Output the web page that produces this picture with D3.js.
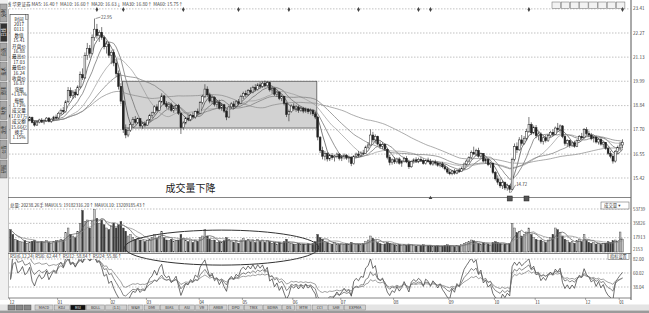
<!DOCTYPE html>
<html><head><meta charset="utf-8">
<script src="https://cdn.jsdelivr.net/npm/d3@7"></script>
<style>body{margin:0;background:#fff}svg{display:block;font-family:"Noto Sans CJK SC","DejaVu Sans",sans-serif}</style>
</head><body><svg id="chart" width="649" height="313"></svg>
<script>
// month labels and trading days per month
const monthLabels = ["12","01","02","03","04","05","06","07","08","09","10","11","12","01"];
const monthDays = [20,22,15,22,18,21,20,22,23,19,17,21,14,2];

// daily [open, high, low, close]
const candles = [
[18.40,18.55,18.20,18.30],[18.30,18.38,18.05,18.12],[18.10,18.25,17.95,18.20],[18.20,18.30,18.00,18.05],[18.05,18.18,17.92,18.10],
[18.10,18.28,18.02,18.22],[18.22,18.30,18.06,18.10],[18.10,18.20,17.98,18.15],[18.15,18.34,18.10,18.28],[18.28,18.32,18.00,18.04],
[18.04,18.12,17.85,17.92],[17.92,18.10,17.88,18.06],[18.06,18.22,18.00,18.16],[18.16,18.25,18.02,18.08],[18.08,18.20,17.95,18.12],
[18.12,18.30,18.08,18.25],[18.25,18.30,18.05,18.10],[18.10,18.24,18.02,18.20],[18.20,18.36,18.12,18.30],[18.30,18.42,18.18,18.26],
[18.26,18.55,18.20,18.48],[18.48,18.70,18.40,18.62],[18.62,18.78,18.45,18.55],[18.55,19.10,18.50,19.02],[19.02,19.72,18.95,19.55],
[19.55,19.70,19.20,19.30],[19.30,19.58,19.15,19.48],[19.48,19.62,19.20,19.35],[19.35,19.80,19.30,19.72],[19.72,20.45,19.65,20.30],
[20.30,20.60,20.05,20.15],[20.15,21.35,20.10,21.20],[21.20,21.80,21.00,21.55],[21.55,21.70,21.10,21.30],[21.30,22.20,21.25,22.05],
[22.05,22.95,21.90,22.45],[22.45,22.70,22.00,22.15],[22.15,22.40,21.85,22.30],[22.30,22.55,21.95,22.05],[22.05,22.15,21.50,21.62],
[21.62,21.90,21.30,21.75],[21.75,21.85,21.10,21.22],
[21.22,21.45,20.80,21.35],[21.35,21.50,20.70,20.85],[20.85,21.00,20.20,20.35],[20.35,20.50,19.60,19.75],[19.75,19.90,18.90,19.05],
[19.05,19.10,17.55,17.70],[17.70,17.95,17.30,17.45],[17.45,17.80,17.35,17.68],[17.68,18.05,17.60,17.95],[17.95,18.30,17.85,18.18],
[18.18,18.35,17.95,18.05],[18.05,18.28,17.98,18.22],[18.22,18.25,17.80,17.88],[17.88,18.05,17.75,17.98],[17.98,18.10,17.82,17.92],
[17.92,18.20,17.88,18.15],[18.15,18.45,18.10,18.38],[18.38,18.55,18.25,18.50],[18.50,18.85,18.42,18.78],[18.78,18.90,18.55,18.62],
[18.62,19.10,18.58,19.02],[19.02,19.42,18.95,19.30],[19.30,19.35,18.85,18.92],[18.92,19.05,18.70,18.80],[18.80,18.95,18.62,18.88],
[18.88,18.98,18.55,18.62],[18.62,18.80,18.50,18.72],[18.72,18.90,18.60,18.85],[18.85,18.92,18.40,18.48],[18.48,18.52,17.50,17.80],
[17.80,18.10,17.70,18.02],[18.02,18.30,17.95,18.25],[18.25,18.40,18.10,18.18],[18.18,18.45,18.12,18.38],[18.38,18.52,18.25,18.30],
[18.30,18.60,18.22,18.55],[18.55,18.70,18.40,18.48],
[18.48,19.05,18.45,18.98],[18.98,19.35,18.90,19.28],[19.28,19.85,19.20,19.62],[19.62,19.75,19.25,19.35],[19.35,19.45,18.95,19.05],
[19.05,19.30,18.92,19.22],[19.22,19.28,18.80,18.90],[18.90,19.10,18.75,19.00],[19.00,19.12,18.65,18.72],[18.72,18.95,18.60,18.88],
[18.88,18.92,18.50,18.58],[18.58,18.65,18.15,18.30],[18.30,18.85,18.25,18.78],[18.78,19.00,18.70,18.92],[18.92,19.05,18.68,18.80],
[18.80,19.10,18.75,19.02],[19.02,19.15,18.85,18.95],[18.95,19.35,18.90,19.28],
[19.28,19.50,19.15,19.42],[19.42,19.55,19.25,19.35],[19.35,19.62,19.30,19.55],[19.55,19.70,19.40,19.48],[19.48,19.78,19.42,19.70],
[19.70,19.85,19.52,19.60],[19.60,19.90,19.55,19.82],[19.82,19.95,19.65,19.75],[19.75,19.98,19.68,19.90],[19.90,20.02,19.70,19.78],
[19.78,20.00,19.72,19.92],[19.92,19.95,19.50,19.58],[19.58,19.72,19.40,19.65],[19.65,19.70,19.30,19.38],[19.38,19.55,19.25,19.48],
[19.48,19.52,19.10,19.18],[19.18,19.35,19.05,19.28],[19.28,19.30,18.85,18.95],[18.95,19.00,18.30,18.42],[18.42,18.65,18.10,18.55],
[18.55,18.90,18.50,18.82],
[18.82,18.95,18.60,18.70],[18.70,18.88,18.55,18.78],[18.78,18.85,18.50,18.62],[18.62,18.80,18.55,18.72],[18.72,18.78,18.48,18.58],
[18.58,18.75,18.50,18.68],[18.68,18.72,18.45,18.55],[18.55,18.70,18.42,18.60],[18.60,18.65,18.35,18.45],[18.45,18.55,18.20,18.30],
[18.30,18.32,17.20,17.35],[17.35,17.40,16.60,16.72],[16.72,16.90,16.30,16.45],[16.45,16.70,16.25,16.58],[16.58,16.65,16.20,16.32],
[16.32,16.55,16.22,16.48],[16.48,16.60,16.28,16.38],[16.38,16.52,16.20,16.45],[16.45,16.62,16.35,16.55],[16.55,16.60,16.25,16.35],
[16.35,16.50,16.22,16.42],[16.42,16.58,16.30,16.50],[16.50,16.55,16.28,16.36],[16.36,16.48,16.15,16.40],[16.40,16.45,15.98,16.10],
[16.10,16.50,16.05,16.45],[16.45,16.62,16.38,16.55],[16.55,16.70,16.40,16.48],[16.48,16.68,16.42,16.60],[16.60,16.75,16.50,16.58],
[16.58,16.95,16.55,16.88],[16.88,17.10,16.80,16.98],[16.98,17.72,16.95,17.45],[17.45,17.60,17.10,17.22],[17.22,17.48,17.05,17.38],
[17.38,17.42,16.95,17.02],[17.02,17.15,16.80,16.92],[16.92,17.10,16.78,17.00],[17.00,17.05,16.70,16.78],[16.78,16.82,16.30,16.40],
[16.40,16.52,16.02,16.15],[16.15,16.35,16.05,16.28],
[16.28,16.40,16.08,16.18],[16.18,16.38,16.10,16.32],[16.32,16.40,16.05,16.12],[16.12,16.25,15.95,16.20],[16.20,16.42,16.15,16.35],
[16.35,16.45,16.12,16.18],[16.18,16.28,15.85,15.95],[15.95,16.25,15.90,16.20],[16.20,16.35,16.10,16.28],[16.28,16.40,16.15,16.22],
[16.22,16.38,16.12,16.30],[16.30,16.42,16.18,16.25],[16.25,16.35,16.05,16.10],[16.10,16.30,16.05,16.25],[16.25,16.38,16.15,16.20],
[16.20,16.32,16.02,16.08],[16.08,16.25,16.00,16.18],[16.18,16.28,16.02,16.12],[16.12,16.20,15.95,16.02],[16.02,16.15,15.92,16.08],
[16.08,16.18,15.88,15.95],[15.95,16.05,15.78,15.85],[15.85,15.95,15.62,15.70],
[15.70,15.82,15.55,15.62],[15.62,15.80,15.55,15.75],[15.75,15.85,15.58,15.65],[15.65,15.82,15.60,15.78],[15.78,15.90,15.68,15.72],
[15.72,15.95,15.70,15.88],[15.88,16.15,15.82,16.08],[16.08,16.30,16.00,16.22],[16.22,16.45,16.15,16.38],[16.38,16.72,16.30,16.62],
[16.62,16.90,16.50,16.55],[16.55,16.80,16.45,16.72],[16.72,16.85,16.38,16.45],[16.45,16.62,16.35,16.58],[16.58,16.60,16.15,16.22],
[16.22,16.38,16.10,16.30],[16.30,16.35,15.98,16.05],[16.05,16.18,15.90,16.12],[16.12,16.15,15.60,15.68],
[15.68,15.75,15.30,15.38],[15.38,15.55,15.10,15.22],[15.22,15.40,14.95,15.05],[15.05,15.30,14.90,15.20],[15.20,15.25,14.85,14.95],
[14.95,15.15,14.82,15.05],[15.05,15.10,14.72,14.88],[14.88,16.38,14.85,16.30],[16.30,17.05,16.20,16.90],[16.90,17.10,16.60,16.75],
[16.75,17.35,16.70,17.22],[17.22,17.45,16.95,17.05],[17.05,17.40,16.98,17.30],[17.30,17.75,17.20,17.62],[17.62,18.30,17.55,17.95],
[17.95,18.05,17.45,17.55],[17.55,17.90,17.48,17.80],
[17.80,17.92,17.30,17.42],[17.42,17.60,17.20,17.50],[17.50,17.58,17.05,17.15],[17.15,17.40,17.00,17.32],[17.32,17.45,17.10,17.18],
[17.18,17.50,17.12,17.42],[17.42,17.65,17.35,17.58],[17.58,17.72,17.40,17.48],[17.48,17.85,17.45,17.78],[17.78,18.02,17.60,17.70],
[17.70,17.95,17.55,17.88],[17.88,17.92,17.30,17.38],[17.38,17.45,16.95,17.05],[17.05,17.25,16.90,17.18],[17.18,17.22,16.85,16.95],
[16.95,17.15,16.88,17.08],[17.08,17.18,16.85,16.92],[16.92,17.25,16.88,17.20],[17.20,17.45,17.15,17.38],[17.38,17.55,17.25,17.32],
[17.32,17.78,17.28,17.70],
[17.70,17.82,17.45,17.52],[17.52,17.65,17.35,17.45],[17.45,17.55,17.20,17.28],[17.28,17.40,17.10,17.35],[17.35,17.42,17.05,17.12],
[17.12,17.30,17.00,17.25],[17.25,17.32,16.95,17.02],[17.02,17.15,16.85,17.10],[17.10,17.12,16.75,16.82],[16.82,16.90,16.50,16.58],
[16.58,16.70,16.35,16.45],[16.45,16.55,16.10,16.22],[16.22,16.75,16.15,16.68],[16.68,16.95,16.55,16.85],
[16.85,17.12,16.70,16.98],[16.98,17.25,16.82,17.10]
];

const volume = [
28000,22000,16000,14000,13000,12500,14000,11000,12000,13500,15000,12000,11500,13000,12000,14500,12000,11000,13500,14000,
14000,16000,15000,24000,30000,22000,20000,18000,26000,36000,52000,38000,40000,30000,38000,53000,42000,36000,40000,34000,30000,28000,
32000,36000,30000,34000,38000,30000,26000,20000,22000,18000,16000,17000,15000,14000,13000,
14000,16000,18000,22000,17000,20000,26000,18000,15000,14000,16000,13000,14000,15000,22000,17000,15000,13000,14000,12000,15000,13000,
18000,20000,28000,20000,16000,14000,15000,12000,13000,12000,14000,18000,16000,13000,12000,14000,11000,15000,
17000,14000,16000,13000,15000,12000,16000,13000,15000,12000,14000,13000,11000,12000,10000,12000,10500,13000,16000,12000,11000,
10000,9500,11000,9000,10000,9000,10500,9500,11000,13000,22000,18000,16000,13000,12000,11000,10000,11500,10000,9500,
10000,9000,10500,9500,12000,11000,9500,10000,9000,10500,13000,15000,20000,17000,14000,12000,10500,9500,10000,12000,11000,9000,
9000,8500,9500,8000,9000,8500,10000,9000,8000,7500,8500,8000,9000,7500,8000,8500,7000,7500,8000,7000,7500,8500,9000,
8000,7500,7000,8000,7500,9000,11000,12000,13000,15000,14000,12000,11000,10000,11500,9000,10000,8500,12000,
13000,12000,11000,9500,10000,9000,11000,36000,30000,24000,26000,20000,22000,25000,30000,22000,18000,
16000,14000,15000,13000,12000,15000,18000,22000,30000,28000,24000,20000,16000,14000,12000,13000,11000,14000,16000,13000,22000,
15000,12000,11000,12000,10000,11000,9500,10500,11000,13000,12000,14000,15000,13000,
25000,16000
];

const priceTicks = [15.42,16.55,17.70,18.84,19.99,21.13,22.27,23.41];
const volTicks = [17913,35826,53739];
const rsiTicks = [38.04,60.02,82.00];
const maPeriods = [5,10,20,30,60];
const maColors = ["#444","#666","#999","#777","#888"];
const rsiPeriods = [6,12,24];
const rsiColors = ["#333","#555","#777"];
const infoDays = [36,47,72,95,116,145,170,175,216,255];
const sideTabs = ["分时","日线","自选","技术","资讯","财务","龙虎","公告","研报"];
const bottomTabs = ["MACD","KDJ","RSI","BOLL","(1.1)","W&R","DMI","BIAS","ASI","VR","ARBR","DPO","TRIX","BDMA","DS","MTM","CCI","SAR","EXPMA"];
const infoLines = ["时间","2017","0111","数值","15.41","开盘价","16.88","最高价","17.03","最低价","16.24","收盘价","16.87","涨幅","+1.67%","振幅","1.73%","成交量","17.07万","成交额","15.66亿","换手","1.15%"];

const svg = d3.select("#chart");
const closes = candles.map(d => d[3]);
const n = candles.length;

const x = d3.scaleBand().domain(d3.range(n)).range([9, 624]).padding(0.25);
const xc = i => x(i) + x.bandwidth() / 2;
const yP = d3.scaleLinear().domain([15.42, 22.27]).range([178, 33]);
const yV = d3.scaleLinear().domain([0, 53739]).range([252, 209]);
const yR = d3.scaleLinear().domain([38.04, 82.00]).range([287, 259]);

const movingAvg = (arr, p) => arr.map((v, i) => d3.mean(arr.slice(Math.max(0, i - p + 1), i + 1)));

function rsi(p) {
  let up = 0.1, dn = 0.1;
  return closes.map((c, i) => {
    if (i === 0) return 50;
    const diff = c - closes[i - 1];
    up = (Math.max(diff, 0) + (p - 1) * up) / p;
    dn = (Math.abs(diff) + (p - 1) * dn) / p;
    return up / dn * 100;
  });
}

// clip paths
const defs = svg.append("defs");
defs.append("clipPath").attr("id", "cp").append("rect").attr("x", 9).attr("y", 9).attr("width", 622).attr("height", 188);
defs.append("clipPath").attr("id", "cr").append("rect").attr("x", 9).attr("y", 259).attr("width", 622).attr("height", 39);

// header
svg.append("text").attr("x", 2).attr("y", 5.5).attr("font-size", 4.6).attr("fill", "#444")
  .text("日线 华夏证券  MA5: 16.40↑  MA10: 16.60↑  MA20: 16.63↓  MA30: 16.80↑  MA60: 15.75↑");

// top right buttons
svg.append("g").selectAll("rect").data(d3.range(8)).join("rect")
  .attr("x", d => 552 + d * 9.2).attr("y", 2).attr("width", 8.5).attr("height", 6.5)
  .attr("fill", "#f2f2f2").attr("stroke", "#666").attr("stroke-width", 0.5);

// frame
svg.append("line").attr("x1", 8).attr("x2", 8).attr("y1", 9).attr("y2", 298).attr("stroke", "#666").attr("stroke-width", 0.8);
svg.append("line").attr("x1", 631).attr("x2", 631).attr("y1", 0).attr("y2", 300).attr("stroke", "#555").attr("stroke-width", 1);
[197.5, 253.5, 298].forEach(y => svg.append("line").attr("x1", 8).attr("x2", 631).attr("y1", y).attr("y2", y).attr("stroke", "#666").attr("stroke-width", 0.8));

// price grid
const gP = svg.append("g");
gP.selectAll("line").data(priceTicks).join("line")
  .attr("x1", 9).attr("x2", 631).attr("y1", d => yP(d)).attr("y2", d => yP(d))
  .attr("stroke", "#999").attr("stroke-width", 0.6).attr("stroke-dasharray", "1.5,1.5");
gP.selectAll("text").data(priceTicks).join("text")
  .attr("x", 633).attr("y", d => yP(d) + 1.6).attr("font-size", 4.6).attr("fill", "#444").text(d => d.toFixed(2));

// consolidation box
svg.append("rect")
  .attr("x", x(47)).attr("y", yP(19.99)).attr("width", x(127) + x.step() - x(47)).attr("height", yP(17.78) - yP(19.99))
  .attr("fill", "#d2d2d2").attr("stroke", "#555").attr("stroke-width", 0.8);

// moving averages
const plot = svg.append("g").attr("clip-path", "url(#cp)");
maPeriods.forEach((p, k) => {
  plot.append("path").datum(movingAvg(closes, p))
    .attr("d", d3.line().x((d, i) => xc(i)).y(d => yP(d)))
    .attr("fill", "none").attr("stroke", maColors[k]).attr("stroke-width", 0.7);
});

// candles
plot.selectAll("line.wick").data(candles).join("line").attr("class", "wick")
  .attr("x1", (d, i) => xc(i)).attr("x2", (d, i) => xc(i))
  .attr("y1", d => yP(d[1])).attr("y2", d => yP(d[2]))
  .attr("stroke", "#222").attr("stroke-width", 0.6);
plot.selectAll("rect.body").data(candles).join("rect").attr("class", "body")
  .attr("x", (d, i) => x(i)).attr("width", x.bandwidth())
  .attr("y", d => yP(Math.max(d[0], d[3])))
  .attr("height", d => Math.max(0.6, Math.abs(yP(d[0]) - yP(d[3]))))
  .attr("fill", d => d[3] >= d[0] ? "#fff" : "#222")
  .attr("stroke", "#222").attr("stroke-width", 0.5);

// high / low marks
const hi = d3.maxIndex(candles, d => d[1]);
const lo = d3.minIndex(candles, d => d[2]);
svg.append("line").attr("x1", xc(hi) + 1).attr("x2", xc(hi) + 6).attr("y1", yP(candles[hi][1])).attr("y2", yP(candles[hi][1]) - 1.5).attr("stroke", "#333").attr("stroke-width", 0.5);
svg.append("text").attr("x", xc(hi) + 6.5).attr("y", yP(candles[hi][1])).attr("font-size", 4.4).attr("fill", "#333").text(candles[hi][1].toFixed(2));
svg.append("line").attr("x1", xc(lo) + 1).attr("x2", xc(lo) + 6).attr("y1", yP(candles[lo][2])).attr("y2", yP(candles[lo][2]) - 8).attr("stroke", "#333").attr("stroke-width", 0.5);
svg.append("text").attr("x", xc(lo) + 6.5).attr("y", yP(candles[lo][2]) - 7).attr("font-size", 4.4).attr("fill", "#333").text(candles[lo][2].toFixed(2));

// info markers on top line
svg.append("g").selectAll("path").data(infoDays).join("path")
  .attr("d", d3.symbol(d3.symbolDiamond, 7)).attr("transform", d => `translate(${xc(d)},9.5)`).attr("fill", "#444");
svg.append("path").attr("d", d3.symbol(d3.symbolTriangle, 6)).attr("transform", `translate(${xc(175)},198)`).attr("fill", "#444");
svg.append("g").selectAll("rect").data([208, 215]).join("rect")
  .attr("x", d => xc(d) - 2.5).attr("y", 196).attr("width", 5).attr("height", 5).attr("fill", "#555").attr("stroke", "#222").attr("stroke-width", 0.5);

// annotation text
svg.append("text").attr("x", xc(75)).attr("y", 192).attr("text-anchor", "middle").attr("font-size", 10).attr("fill", "#222").text("成交量下降");

// volume panel
svg.append("text").attr("x", 10).attr("y", 206.5).attr("font-size", 4.4).attr("fill", "#333")
  .text("总量: 20238.26手  MAVOL5: 19182316.20↑  MAVOL10: 13209185.43↑");
const gV = svg.append("g");
gV.selectAll("line").data(volTicks).join("line")
  .attr("x1", 9).attr("x2", 631).attr("y1", d => yV(d)).attr("y2", d => yV(d))
  .attr("stroke", "#999").attr("stroke-width", 0.6).attr("stroke-dasharray", "1.5,1.5");
gV.selectAll("text").data(volTicks).join("text")
  .attr("x", 633).attr("y", d => yV(d) + 1.6).attr("font-size", 4.4).attr("fill", "#444").text(d => d);
svg.append("text").attr("x", 633).attr("y", 251).attr("font-size", 4.4).attr("fill", "#444").text("2153");
gV.selectAll("rect.v").data(volume).join("rect").attr("class", "v")
  .attr("x", (d, i) => x(i)).attr("width", x.bandwidth())
  .attr("y", d => yV(d)).attr("height", d => yV(0) - yV(d))
  .attr("fill", (d, i) => candles[i][3] >= candles[i][0] ? "#c4c4c4" : "#3a3a3a")
  .attr("stroke", "#444").attr("stroke-width", 0.4);
[5, 10].forEach((p, k) => {
  gV.append("path").datum(movingAvg(volume, p))
    .attr("d", d3.line().x((d, i) => xc(i)).y(d => yV(d)))
    .attr("fill", "none").attr("stroke", k ? "#888" : "#555").attr("stroke-width", 0.7);
});
svg.append("rect").attr("x", 601).attr("y", 202).attr("width", 28).attr("height", 7).attr("fill", "#fff").attr("stroke", "#555").attr("stroke-width", 0.5);
svg.append("text").attr("x", 604).attr("y", 207.3).attr("font-size", 4.4).attr("fill", "#333").text("成交量 ▾");

// ellipse around shrinking volume
svg.append("ellipse").attr("cx", (xc(48) + xc(128)) / 2).attr("cy", yV(5500)).attr("rx", (xc(128) - xc(48)) / 2 + 1).attr("ry", 17.5)
  .attr("fill", "none").attr("stroke", "#333").attr("stroke-width", 1);

// RSI panel
svg.append("text").attr("x", 10).attr("y", 258).attr("font-size", 4.4).attr("fill", "#333")
  .text("RSI(6,12,24)  RSI6: 62.44↑  RSI12: 58.84↑  RSI24: 55.86↑");
const gR = svg.append("g");
gR.selectAll("line").data(rsiTicks).join("line")
  .attr("x1", 9).attr("x2", 631).attr("y1", d => yR(d)).attr("y2", d => yR(d))
  .attr("stroke", "#999").attr("stroke-width", 0.6).attr("stroke-dasharray", "1.5,1.5");
gR.selectAll("text").data(rsiTicks).join("text")
  .attr("x", 633).attr("y", d => yR(d) + 1.6).attr("font-size", 4.4).attr("fill", "#444").text(d => d.toFixed(2));
const rPlot = svg.append("g").attr("clip-path", "url(#cr)");
rsiPeriods.forEach((p, k) => {
  rPlot.append("path").datum(rsi(p))
    .attr("d", d3.line().x((d, i) => xc(i)).y(d => yR(d)))
    .attr("fill", "none").attr("stroke", rsiColors[k]).attr("stroke-width", 0.7);
});
svg.append("rect").attr("x", 608).attr("y", 253.5).attr("width", 21).attr("height", 6).attr("fill", "#fff").attr("stroke", "#555").attr("stroke-width", 0.5);
svg.append("text").attr("x", 610).attr("y", 258).attr("font-size", 4.2).attr("fill", "#333").text("指标设置");

// x axis month labels
const monthStart = d3.cumsum([0, ...monthDays.slice(0, -1)]);
svg.append("g").selectAll("text").data(monthLabels).join("text")
  .attr("x", (d, k) => x(monthStart[k])).attr("y", 303.5).attr("font-size", 4.4).attr("fill", "#333").text(d => d);
svg.append("g").selectAll("line").data(monthStart).join("line")
  .attr("x1", d => x(d)).attr("x2", d => x(d)).attr("y1", 298).attr("y2", 300).attr("stroke", "#555").attr("stroke-width", 0.5);

// bottom toolbar
svg.append("rect").attr("x", 0).attr("y", 304.5).attr("width", 649).attr("height", 6).attr("fill", "#e4e4e4");
svg.append("rect").attr("x", 0).attr("y", 310.5).attr("width", 649).attr("height", 2.5).attr("fill", "#9a9a9a");
const tb = svg.append("g");
let tx = 8;
d3.range(3).forEach(() => { tb.append("rect").attr("x", tx).attr("y", 305).attr("width", 7).attr("height", 5).attr("fill", "#888").attr("stroke", "#444").attr("stroke-width", 0.4); tx += 8; });
tx += 3;
bottomTabs.forEach(t => {
  const w = t.length * 3 + 6;
  tb.append("rect").attr("x", tx).attr("y", 305).attr("width", w).attr("height", 5)
    .attr("fill", t === "RSI" ? "#111" : "#d0d0d0").attr("stroke", "#777").attr("stroke-width", 0.4);
  tb.append("text").attr("x", tx + w / 2).attr("y", 309).attr("text-anchor", "middle").attr("font-size", 3.8)
    .attr("fill", t === "RSI" ? "#fff" : "#333").text(t);
  tx += w + 1.2;
});

// left side tabs
svg.append("rect").attr("x", 0).attr("y", 0).attr("width", 8).attr("height", 300).attr("fill", "#f0f0f0");
svg.append("g").selectAll("rect").data(sideTabs).join("rect")
  .attr("x", 0.5).attr("y", (d, k) => 4 + k * 19.5).attr("width", 6.5).attr("height", 18)
  .attr("fill", (d, k) => k === 1 ? "#333" : "#a8a8a8").attr("stroke", "#555").attr("stroke-width", 0.4);
svg.append("g").selectAll("text").data(sideTabs).join("text")
  .attr("transform", (d, k) => `translate(5.3,${13 + k * 19.5}) rotate(-90)`).attr("text-anchor", "middle")
  .attr("font-size", 4.2).attr("fill", (d, k) => k === 1 ? "#fff" : "#222").text(d => d);

// info box
svg.append("rect").attr("x", 10).attr("y", 14.5).attr("width", 18).attr("height", 129).attr("fill", "#fff").attr("stroke", "#444").attr("stroke-width", 0.7);
svg.append("rect").attr("x", 25.5).attr("y", 14.5).attr("width", 2.5).attr("height", 5).attr("fill", "#ddd").attr("stroke", "#444").attr("stroke-width", 0.4);
svg.append("g").selectAll("text").data(infoLines).join("text")
  .attr("x", 19).attr("y", (d, k) => 20.5 + k * 5.4).attr("text-anchor", "middle").attr("font-size", 4.6)
  .attr("fill", "#222").text(d => d);
</script>
</body></html>
